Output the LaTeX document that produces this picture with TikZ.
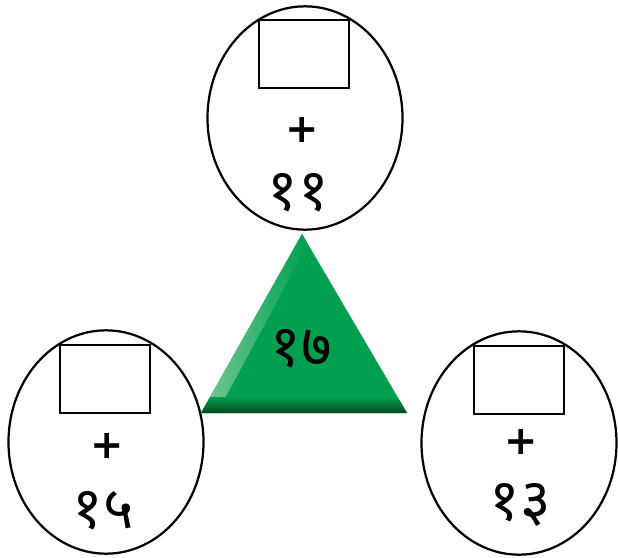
\documentclass[tikz,border=0pt]{standalone}
\usepackage{fontspec}
\setmainfont{Noto Sans}
\newfontfamily\devfont[Script=Devanagari]{Noto Sans}
\newfontfamily\plusfont{DejaVu Sans}
\usetikzlibrary{positioning,shapes.geometric,calc}

\definecolor{trigreen}{RGB}{0,160,80}
\definecolor{trilight}{RGB}{120,200,150}
\definecolor{tridark}{RGB}{0,70,30}

\begin{document}
\begin{tikzpicture}[
    x=0.03cm, y=-0.03cm,
    oval/.style={ellipse, draw, line width=1.9pt, inner sep=0pt,
                 minimum width=5.85cm, minimum height=6.7cm},
    slot/.style={rectangle, draw, line width=1.6pt, inner sep=0pt,
                 minimum width=2.7cm, minimum height=2.04cm},
    plus/.style={font=\plusfont\bfseries\fontsize{34}{36}\selectfont},
    num/.style={font=\devfont\bfseries\fontsize{50}{54}\selectfont},
  ]
    \useasboundingbox (0,0) rectangle (618,557);

    % top circle
    \node[oval] (topc) at (305,118) {};
    \node[slot] (tops) at (304,54) {};
    \node[plus] (topp) at (302,130) {+};
    \node[num] (topn) at (298,193) {११};

    % left circle
    \node[oval] (leftc) at (106,442) {};
    \node[slot] (lefts) at (105,379) {};
    \node[plus] (leftp) at (107,446) {+};
    \node[num] (leftn) at (103,511) {१५};

    % right circle
    \node[oval] (rightc) at (519,443) {};
    \node[slot] (rights) at (519,380) {};
    \node[plus] (rightp) at (521,442) {+};
    \node[num] (rightn) at (520,505) {१३};

    % triangle
    \coordinate (apex) at (302,234);
    \coordinate (bl) at (201,413);
    \coordinate (br) at (407,413);
    \fill[trigreen] (apex) -- (bl) -- (br) -- cycle;
    \begin{scope}
      \clip (apex) -- (bl) -- (br) -- cycle;
      \shade[left color=trilight, right color=trigreen]
        (apex) -- (bl) -- ++(16,0) -- ($(apex)+(6,10)$) -- cycle;
      \shade[top color=trigreen, bottom color=tridark] (201,397) rectangle (407,413);
    \end{scope}
    \node[num] (trin) at (301,349) {१७};
  \end{tikzpicture}
\end{document}
